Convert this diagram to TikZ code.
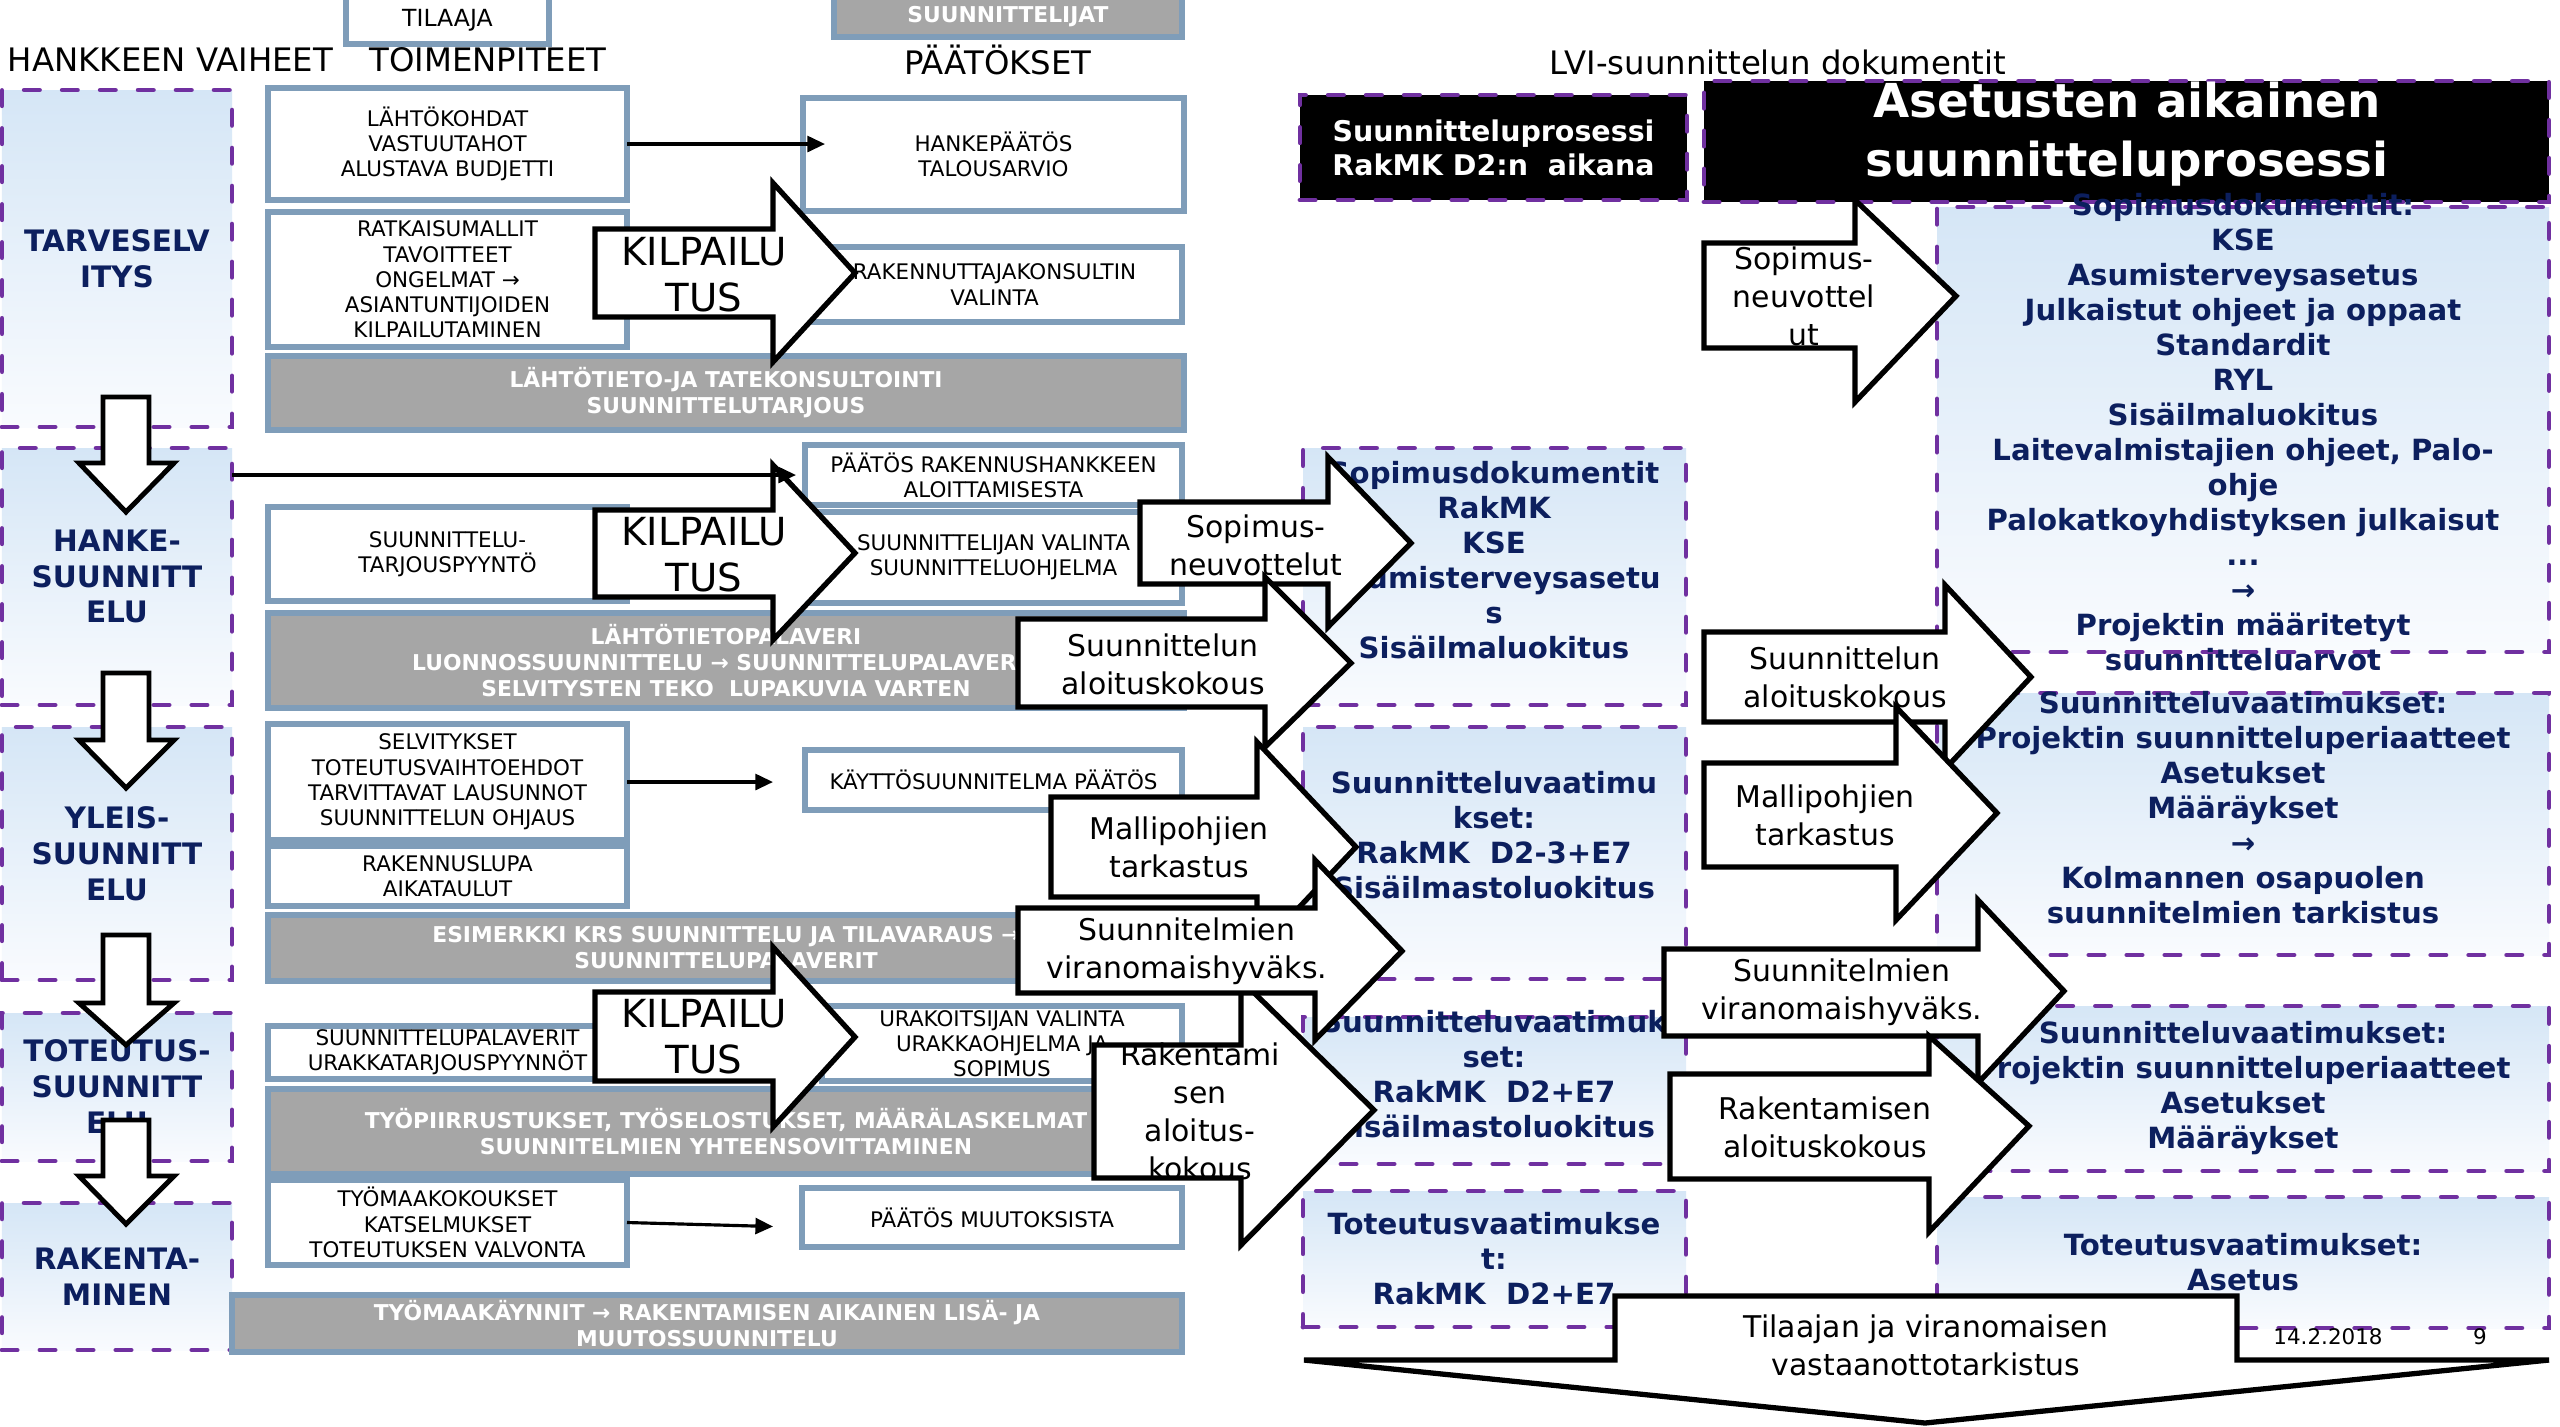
\documentclass[tikz,border=0pt]{standalone}
\usepackage{fontspec}
\setmainfont{DejaVu Sans}
\usetikzlibrary{fit,calc,arrows.meta}
\definecolor{purp}{HTML}{7030A0}
\definecolor{navy}{HTML}{0C1F5E}
\definecolor{bgray}{HTML}{7F9DB9}
\definecolor{bargray}{HTML}{A6A6A6}
\definecolor{lbtop}{HTML}{D5E6F6}
\definecolor{lbbot}{HTML}{F9FBFE}
\newcommand\barrow[8]{\draw[blockarrow] (#1,#2) -- (#4,#2) -- (#4,#5) -- (#7,#8) -- (#4,#6) -- (#4,#3) -- (#1,#3) -- cycle;}
\newcommand\darrow[3]{\draw[blockarrow,line width=1.4pt] (103,#1) -- (149,#1) -- (149,#2) -- (174,#2) -- (126,#3) -- (79,#2) -- (103,#2) -- cycle;}
\begin{document}
\begin{tikzpicture}[x=0.01cm, y=-0.01cm,
  every node/.style={inner sep=0pt, outer sep=0pt},
  lbox/.style={draw=bgray, line width=1.6pt, fill=white},
  gbar/.style={draw=bgray, line width=1.6pt, fill=bargray},
  dbox/.style={draw=purp, line width=1.4pt, dash pattern=on 4.3pt off 6.5pt, line cap=round, top color=lbtop, bottom color=lbbot},
  kbox/.style={draw=purp, line width=1.4pt, dash pattern=on 4.3pt off 6.5pt, line cap=round, fill=black},
  blockarrow/.style={draw=black, fill=white, line width=1.5pt, line join=miter},
  conn/.style={draw=black, line width=0.9pt, -{Triangle[length=5pt,width=4.5pt]}},
  stxt/.style={font=\fontsize{6.1}{7.2}\selectfont, align=center},
  bartxt/.style={font=\bfseries\fontsize{6.2}{7.4}\selectfont, text=white, align=center},
  phtxt/.style={font=\bfseries\fontsize{8.4}{10.2}\selectfont, text=navy, align=center},
  nvtxt/.style={font=\bfseries\fontsize{8.3}{9.95}\selectfont, text=navy, align=center},
  atxt/.style={font=\fontsize{8.5}{10.8}\selectfont, align=center},
  ktxt/.style={font=\fontsize{11}{13}\selectfont, align=center},
  hdr/.style={font=\fontsize{9.2}{11}\selectfont},
  wtxt/.style={font=\bfseries\fontsize{8.1}{9.7}\selectfont, text=white, align=center},
  bigw/.style={font=\bfseries\fontsize{13.3}{16.8}\selectfont, text=white, align=center},
]
\useasboundingbox (0,0) rectangle (2560,1426);
\fill[white] (0,0) rectangle (2560,1426);

% ---------- phase boxes ----------
\node[dbox, fit={(2,90) (232,427)}] (ph1) {};
\node[phtxt] (ph1t) at (ph1) {TARVESELV\\ITYS};
\node[dbox, fit={(2,448) (232,705)}] (ph2) {};
\node[phtxt] (ph2t) at (ph2) {HANKE-\\SUUNNITT\\ELU};
\node[dbox, fit={(2,727) (232,980)}] (ph3) {};
\node[phtxt] (ph3t) at (ph3) {YLEIS-\\SUUNNITT\\ELU};
\node[dbox, fit={(2,1013) (232,1161)}] (ph4) {};
\node[phtxt] (ph4t) at (ph4) {TOTEUTUS-\\SUUNNITT\\ELU};
\node[dbox, fit={(2,1203) (232,1350)}] (ph5) {};
\node[phtxt] (ph5t) at (ph5) {RAKENTA-\\MINEN};

% ---------- header ----------
\node[lbox, fit={(346,-3) (549,44)}] (tilaaja) {};
\node[stxt, font=\fontsize{6.7}{8}\selectfont] (tilaajat) at (tilaaja) {TILAAJA};
\node[gbar, fit={(834,-3) (1182,37)}] (suunn) {};
\node[bartxt] (suunnt) at (suunn) {SUUNNITTELIJAT};
\node[hdr, anchor=west] (h1) at (8,60) {HANKKEEN VAIHEET};
\node[hdr] (h2) at (488,60) {TOIMENPITEET};
\node[hdr] (h3) at (998,60) {PÄÄTÖKSET};
\node[hdr] (h4) at (1778,62) {LVI-suunnittelun dokumentit};

% ---------- left boxes ----------
\node[lbox, fit={(268,88) (627,200)}] (la) {};
\node[stxt] (lat) at (la) {LÄHTÖKOHDAT\\VASTUUTAHOT\\ALUSTAVA BUDJETTI};
\node[lbox, fit={(268,212) (627,347)}] (lb) {};
\node[stxt] (lbt) at (lb) {RATKAISUMALLIT\\TAVOITTEET\\ONGELMAT →\\ASIANTUNTIJOIDEN\\KILPAILUTAMINEN};
\node[gbar, fit={(268,356) (1184,430)}] (bar1) {};
\node[bartxt] (bar1t) at (bar1) {LÄHTÖTIETO-JA TATEKONSULTOINTI\\SUUNNITTELUTARJOUS};
\node[lbox, fit={(803,98) (1184,211)}] (hp) {};
\node[stxt] (hpt) at (hp) {HANKEPÄÄTÖS\\TALOUSARVIO};
\node[lbox, fit={(807,247) (1182,322)}] (rk) {};
\node[stxt] (rkt) at (rk) {RAKENNUTTAJAKONSULTIN\\VALINTA};
\node[lbox, fit={(805,445) (1182,505)}] (pr) {};
\node[stxt] (prt) at (pr) {PÄÄTÖS RAKENNUSHANKKEEN\\ALOITTAMISESTA};
\node[lbox, fit={(268,507) (627,601)}] (st) {};
\node[stxt] (stt) at (st) {SUUNNITTELU-\\TARJOUSPYYNTÖ};
\node[lbox, fit={(805,512) (1182,603)}] (sv) {};
\node[stxt] (svt) at (sv) {SUUNNITTELIJAN VALINTA\\SUUNNITTELUOHJELMA};
\node[gbar, fit={(268,613) (1184,708)}] (bar2) {};
\node[bartxt] (bar2t) at (bar2) {LÄHTÖTIETOPALAVERI\\LUONNOSSUUNNITTELU → SUUNNITTELUPALAVERIT\\SELVITYSTEN TEKO\ \ LUPAKUVIA VARTEN};
\node[lbox, fit={(268,724) (627,840)}] (sel) {};
\node[stxt] (selt) at (sel) {SELVITYKSET\\TOTEUTUSVAIHTOEHDOT\\TARVITTAVAT LAUSUNNOT\\SUUNNITTELUN OHJAUS};
\node[lbox, fit={(268,846) (627,906)}] (rl) {};
\node[stxt] (rlt) at (rl) {RAKENNUSLUPA\\AIKATAULUT};
\node[lbox, fit={(805,750) (1182,810)}] (kp) {};
\node[stxt] (kpt) at (kp) {KÄYTTÖSUUNNITELMA PÄÄTÖS};
\node[gbar, fit={(268,915) (1184,981)}] (bar3) {};
\node[bartxt] (bar3t) at (bar3) {ESIMERKKI KRS SUUNNITTELU JA TILAVARAUS →\\SUUNNITTELUPALAVERIT};
\node[lbox, fit={(268,1026) (627,1079)}] (sp) {};
\node[stxt] (spt) at (sp) {SUUNNITTELUPALAVERIT\\URAKKATARJOUSPYYNNÖT};
\node[lbox, fit={(822,1006) (1182,1081)}] (ur) {};
\node[stxt] (urt) at (ur) {URAKOITSIJAN VALINTA\\URAKKAOHJELMA JA\\SOPIMUS};
\node[gbar, fit={(268,1089) (1184,1174)}] (bar4) {};
\node[bartxt] (bar4t) at (bar4) {TYÖPIIRRUSTUKSET, TYÖSELOSTUKSET, MÄÄRÄLASKELMAT\\SUUNNITELMIEN YHTEENSOVITTAMINEN};
\node[lbox, fit={(268,1180) (627,1265)}] (ty) {};
\node[stxt] (tyt) at (ty) {TYÖMAAKOKOUKSET\\KATSELMUKSET\\TOTEUTUKSEN VALVONTA};
\node[lbox, fit={(802,1188) (1182,1247)}] (pm) {};
\node[stxt] (pmt) at (pm) {PÄÄTÖS MUUTOKSISTA};
\node[gbar, fit={(232,1295) (1182,1352)}] (bar5) {};
\node[bartxt] (bar5t) at (bar5) {TYÖMAAKÄYNNIT → RAKENTAMISEN AIKAINEN LISÄ- JA\\MUUTOSSUUNNITELU};

% ---------- phase down arrows ----------
\darrow{397}{463}{512}
\darrow{673}{740}{788}
\darrow{935}{1003}{1045}
\darrow{1120}{1176}{1224}

% ---------- kilpailutus arrows ----------
\barrow{595}{229}{317}{773}{183}{362}{855}{273}
\node[ktxt] (k1) at (704,275) {KILPAILU\\TUS};
\barrow{595}{510}{597}{773}{465}{640}{855}{553}
\node[ktxt] (k2) at (704,555) {KILPAILU\\TUS};
\barrow{595}{992}{1081}{773}{947}{1127}{855}{1037}
\node[ktxt] (k3) at (704,1037) {KILPAILU\\TUS};

% ---------- thin connectors ----------
\draw[conn] (la.east) -- ($(la.east -| hp.west)+(22,0)$);
\draw[conn] (ph2.east |- pr.west) -- ($(pr.west)+(-9,0)$);
\draw[conn] (sel.east) -- ($(sel.east -| kp.west)+(-32,0)$);
\draw[conn] (ty.east) -- ($(ty.east -| pm.west)+(-29,4)$);

% ---------- middle boxes ----------
\node[dbox, fit={(1303,448) (1686,705)}] (m1) {};
\node[nvtxt] (m1t) at (1494,560) {Sopimusdokumentit\\RakMK\\KSE\\Asumisterveysasetu\\s\\Sisäilmaluokitus};
\node[dbox, fit={(1303,727) (1686,979)}] (m2) {};
\node[nvtxt] (m2t) at (1494,835) {Suunnitteluvaatimu\\kset:\\RakMK\ \ D2-3+E7\\Sisäilmastoluokitus};
\node[dbox, fit={(1303,1017) (1686,1164)}] (m3) {};
\node[nvtxt] (m3t) at (1494,1074) {Suunnitteluvaatimuk\\set:\\RakMK\ \ D2+E7\\Sisäilmastoluokitus};
\node[dbox, fit={(1303,1191) (1686,1327)}] (m4) {};
\node[nvtxt] (m4t) at (1494,1259) {Toteutusvaatimukse\\t:\\RakMK\ \ D2+E7};

% ---------- black title boxes ----------
\node[kbox, fit={(1300,95) (1687,200)}] (k4) {};
\node[wtxt] (k4t) at (k4) {Suunnitteluprosessi\\RakMK D2:n\ \ aikana};
\node[kbox, fit={(1704,81) (2549,202)}] (k5) {};
\node[bigw] (k5t) at (2127,134) {Asetusten aikainen\\suunnitteluprosessi};

% ---------- right boxes ----------
\node[dbox, fit={(1937,207) (2549,652)}] (r1) {};
\node[nvtxt] (r1t) at (2243,432) {Sopimusdokumentit:\\KSE\\Asumisterveysasetus\\Julkaistut ohjeet ja oppaat\\Standardit\\RYL\\Sisäilmaluokitus\\Laitevalmistajien ohjeet, Palo-\\ohje\\Palokatkoyhdistyksen julkaisut\\...\\→\\Projektin määritetyt\\suunnitteluarvot};
\node[dbox, fit={(1937,693) (2549,955)}] (r2) {};
\node[nvtxt] (r2t) at (2243,808) {Suunnitteluvaatimukset:\\Projektin suunnitteluperiaatteet\\Asetukset\\Määräykset\\→\\Kolmannen osapuolen\\suunnitelmien tarkistus};
\node[dbox, fit={(1937,1006) (2549,1171)}] (r3) {};
\node[nvtxt] (r3t) at (2243,1088) {Suunnitteluvaatimukset:\\Projektin suunnitteluperiaatteet\\Asetukset\\Määräykset};
\node[dbox, fit={(1937,1197) (2549,1328)}] (r4) {};
\node[nvtxt] (r4t) at (2243,1262) {Toteutusvaatimukset:\\Asetus};

% ---------- middle arrows ----------
\barrow{1140}{502}{584}{1328}{457}{627}{1411}{543}
\node[atxt] (a1) at (1256,545) {Sopimus-\\neuvottelut};
\barrow{1018}{619}{707}{1265}{577}{747}{1351}{663}
\node[atxt] (a2) at (1163,664) {Suunnittelun\\aloituskokous};
\barrow{1051}{797}{897}{1257}{742}{952}{1356}{847}
\node[atxt] (a3) at (1179,847) {Mallipohjien\\tarkastus};
\barrow{1094}{1045}{1178}{1241}{980}{1245}{1374}{1110}
\node[atxt] (a4) at (1200,1111) {Rakentami\\sen\\aloitus-\\kokous};
\barrow{1018}{908}{993}{1315}{860}{1040}{1402}{951}
\node[atxt] (a5) at (1187,951) {Suunnitelmien\\viranomaishyväks.};

% ---------- right arrows ----------
\barrow{1704}{243}{348}{1855}{200}{402}{1956}{296}
\node[atxt] (b1) at (1804,296) {Sopimus-\\neuvottel\\ut};
\barrow{1704}{632}{722}{1945}{585}{769}{2031}{677}
\node[atxt] (b2) at (1845,677) {Suunnittelun\\aloituskokous};
\barrow{1704}{763}{867}{1896}{707}{920}{1997}{813}
\node[atxt] (b3) at (1825,815) {Mallipohjien\\tarkastus};
\barrow{1664}{949}{1036}{1978}{900}{1083}{2064}{991}
\node[atxt] (b4) at (1842,992) {Suunnitelmien\\viranomaishyväks.};
\barrow{1670}{1074}{1179}{1929}{1036}{1232}{2029}{1126}
\node[atxt] (b5) at (1825,1127) {Rakentamisen\\aloituskokous};

% ---------- big down arrow ----------
\draw[blockarrow] (1615,1296) -- (2237,1296) -- (2237,1360) -- (2549,1360) -- (1925,1423) -- (1304,1360) -- (1615,1360) -- cycle;
\node[atxt] (b6) at (1926,1345) {Tilaajan ja viranomaisen\\vastaanottotarkistus};

\node[stxt] (date) at (2328,1337) {14.2.2018};
\node[stxt] (page) at (2480,1337) {9};
\end{tikzpicture}
\end{document}
